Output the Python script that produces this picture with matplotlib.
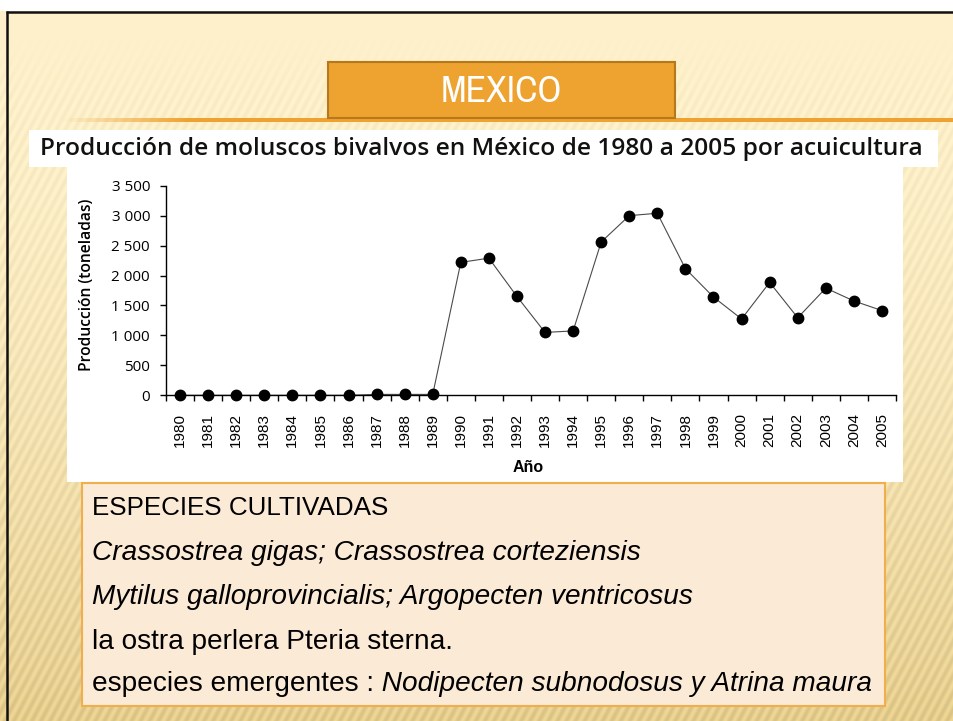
import matplotlib
matplotlib.use('Agg')
import matplotlib.pyplot as plt
from matplotlib.patches import Rectangle
from matplotlib import font_manager as fm
import numpy as np

###############################################
# datos
years = list(range(1980, 2006))
produccion = [0, 0, 0, 0, 0, 0, 0, 15, 15, 15,
              2220, 2290, 1650, 1050, 1075, 2560, 3000, 3040, 2115, 1640,
              1275, 1885, 1295, 1790, 1575, 1415]
yticks = [0, 500, 1000, 1500, 2000, 2500, 3000, 3500]
ytick_labels = ['0', '500', '1 000', '1 500', '2 000', '2 500', '3 000', '3 500']

titulo = 'MEXICO'
titulo_grafica = 'Producción de moluscos bivalvos en México de 1980 a 2005 por acuicultura'
ylabel = 'Producción (toneladas)'
xlabel = 'Año'
especies = [
    [('ESPECIES CULTIVADAS', 'normal')],
    [('Crassostrea gigas; Crassostrea corteziensis', 'italic')],
    [('Mytilus galloprovincialis; Argopecten ventricosus', 'italic')],
    [('la ostra perlera Pteria sterna.', 'normal')],
    [('especies emergentes :', 'normal'), (' Nodipecten subnodosus y Atrina maura', 'italic')],
]

W, H = 954, 721


###############################################
# buscar una fuente estrecha para el titulo
def narrow_font(style):
    fonts = fm.fontManager.ttflist
    for test in (lambda f: 'Narrow' in f.name,
                 lambda f: 'Condensed' in f.name,
                 lambda f: f.name == 'DejaVu Sans' and 'condensed' in str(f.stretch)):
        for f in fonts:
            if test(f) and f.style == style and f.weight in (400, 'normal', 'regular'):
                return fm.FontProperties(fname=f.fname)
    return fm.FontProperties(family='Liberation Sans', style=style)


fp_narrow = narrow_font('normal')

fig = plt.figure(figsize=(W / 100, H / 100), dpi=100)
renderer = fig.canvas.get_renderer()

###############################################
# fondo de la diapositiva
yy, xx = np.mgrid[0:H, 0:W].astype(float)
top = np.array([253, 240, 202]) / 255
bot = np.array([228, 204, 140]) / 255
t = np.clip((yy - 40) / (H - 40), 0, 1) ** 1.6
bg = top * (1 - t[..., None]) + bot * t[..., None]
ang = np.deg2rad(28)
stripes = np.sin(2 * np.pi * (xx * np.cos(ang) + yy * np.sin(ang)) / 8.0)
mask = np.clip((yy - 40) / 60, 0, 1) * (0.02 + 0.03 * t)
bg = np.clip(bg * (1 + mask[..., None] * stripes[..., None]), 0, 1)

ov = fig.add_axes([0, 0, 1, 1])
ov.imshow(bg, extent=(0, W, H, 0), interpolation='bilinear')
ov.set_xlim(0, W)
ov.set_ylim(H, 0)
ov.axis('off')

ov.add_patch(Rectangle((0, 0), W, 11, fc='white', ec='none'))
ov.plot([6.5, W], [11.5, 11.5], color='#111111', lw=1.8, solid_capstyle='butt')
ov.plot([7, 7], [11, H], color='#111111', lw=1.8, solid_capstyle='butt')

# linea naranja con degradado a la izquierda
grad = np.zeros((1, 200, 4))
grad[..., :3] = np.array([240, 162, 48]) / 255
grad[..., 3] = np.clip(np.linspace(0, 1.6, 200), 0, 1)
ov.imshow(grad, extent=(62, 262, 122, 118), aspect='auto')
ov.add_patch(Rectangle((262, 118), W - 262, 4, fc='#F0A230', ec='none'))
ov.set_xlim(0, W)
ov.set_ylim(H, 0)

# caja del titulo
ov.add_patch(Rectangle((328, 62), 347, 56, fc='#EEA22F', ec='#B5781C', lw=1.5))
mx = ov.text(501.5, 91, titulo, color='white', fontproperties=fp_narrow,
             ha='center', va='center')
mx.set_fontsize(27)

# franjas blancas de la grafica
ov.add_patch(Rectangle((29, 130), 909, 37, fc='white', ec='none'))
ov.add_patch(Rectangle((67, 166), 836, 316, fc='white', ec='none'))
tt = ov.text(40, 149, titulo_grafica, fontsize=16, family=['Open Sans', 'DejaVu Sans'],
             fontweight='semibold', ha='left', va='center', color='#111111')
w = tt.get_window_extent(renderer).width
tt.set_fontsize(16 * 885 / w)

# caja de especies
ov.add_patch(Rectangle((82, 483), 803, 223, fc='#FBEAD6', ec='#F0AE4C', lw=1.5))
line_y = [508, 553, 597, 642, 684]
size = 17.6
texts = []
for y, parts in zip(line_y, especies):
    row = []
    for s, style in parts:
        tx = ov.text(92, y, s, fontsize=size, family='Liberation Sans', style=style,
                     ha='left', va='center', color='black')
        row.append(tx)
    texts.append(row)
# ajustar el tamano con el ancho de la ultima linea
x = 92
for tx in texts[-1]:
    tx.set_x(x)
    x = tx.get_window_extent(renderer).x1
k = 775 / (x - 92)
for row in texts:
    x = 92
    for tx in row:
        tx.set_fontsize(size * k)
        tx.set_x(x)
        x = tx.get_window_extent(renderer).x1
# el encabezado en mayusculas es algo mas estrecho
head = texts[0][0]
hw = head.get_window_extent(renderer).width
head.set_fontsize(head.get_fontsize() * min(1.0, 296 / hw))

###############################################
# grafica
ax = fig.add_axes([166 / W, 1 - 395.3 / H, 730 / W, 209.6 / H])
ax.set_facecolor('none')
xi = np.arange(len(years))
ax.plot(xi, produccion, color='#4a4a4a', lw=0.8, zorder=2, clip_on=False)
ax.plot(xi, produccion, 'o', color='black', ms=7.5, zorder=3, clip_on=False)

ax.set_xlim(-0.5, len(years) - 0.5)
ax.set_ylim(0, 3500)
ax.spines['top'].set_visible(False)
ax.spines['right'].set_visible(False)
ax.spines['left'].set_linewidth(1.0)
ax.spines['bottom'].set_linewidth(1.0)

ax.set_xticks(np.arange(-0.5, len(years), 1.0))
ax.set_xticklabels([])
ax.set_xticks(xi, minor=True)
ax.set_xticklabels([str(y) for y in years], minor=True, rotation=90,
                   fontsize=11, family='Liberation Sans', va='top')
ax.tick_params(axis='x', which='major', direction='out', length=4, width=1)
ax.tick_params(axis='x', which='minor', length=0, pad=13)

ax.set_yticks(yticks)
ax.set_yticklabels(ytick_labels, fontsize=11, family=['Open Sans', 'DejaVu Sans'])
ax.tick_params(axis='y', direction='out', length=4.5, width=1, pad=7)

yl = ax.text((86.7 - 166) / 730, 0.526, ylabel, rotation=90, transform=ax.transAxes,
             ha='center', va='center', fontsize=10, fontweight='semibold',
             family=['Open Sans', 'DejaVu Sans'])
hgt = yl.get_window_extent(renderer).height
yl.set_fontsize(10 * 173 / hgt)
ax.text(0.496, -0.345, xlabel, transform=ax.transAxes, ha='center', va='center',
        fontsize=11.5, fontweight='bold', family='Liberation Sans')

fig.savefig('out.png', dpi=100)
